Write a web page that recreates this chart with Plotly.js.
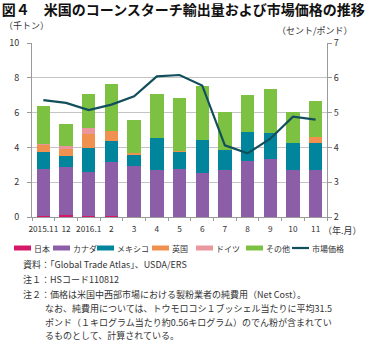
<!DOCTYPE html>
<html>
<head>
<meta charset="utf-8">
<script src="https://cdn.plot.ly/plotly-3.0.1.min.js"></script>
<style>html,body{margin:0;padding:0;background:#fff;}#chart{width:368px;height:342px;}</style>
</head>
<body>
<div id="chart"></div>
<script>
// ---- data ----
var months = ["2015.11","12","2016.1","2","3","4","5","6","7","8","9","10","11"];
var japan   = [0.05,0.10,0.05,0.05,0.00,0.00,0.00,0.00,0.00,0.00,0.00,0.00,0.00];
var canada  = [2.70,2.75,2.51,3.12,2.91,2.68,2.77,2.54,2.73,3.21,3.35,2.73,2.68];
var mexico  = [0.99,0.63,1.40,1.17,0.65,1.87,0.96,1.88,1.11,1.65,1.45,1.51,1.60];
var uk      = [0.38,0.40,0.82,0.63,0.13,0.00,0.06,0.00,0.00,0.00,0.00,0.00,0.31];
var germany = [0.08,0.21,0.34,0.00,0.00,0.00,0.00,0.00,0.00,0.00,0.00,0.00,0.00];
var other   = [2.16,1.24,1.95,2.66,1.91,2.52,3.04,3.11,2.18,2.16,2.56,1.78,2.06];
var price   = [5.36,5.28,5.07,5.23,5.47,6.04,6.08,5.78,4.06,3.83,4.25,4.88,4.80];

var seriesNames  = ["日本","カナダ","メキシコ","英国","ドイツ","その他"];
var seriesValues = [japan, canada, mexico, uk, germany, other];
var seriesColors = ["#d6186b","#8c5ea8","#00859d","#f0914f","#e9979c","#7dc142"];
var lineName = "市場価格";
var lineColor = "#124f5c";

var titleText = "図４　米国のコーンスターチ輸出量および市場価格の推移";
var leftUnit = "（千トン）";
var rightUnit = "（セント/ポンド）";
var xUnit = "（年.月）";
var notes = [
  "資料：「Global Trade Atlas」、USDA/ERS",
  "注１：HSコード110812",
  "注２：価格は米国中西部市場における製粉業者の純費用（Net Cost）。",
  "なお、純費用については、トウモロコシ１ブッシェル当たりに平均31.5",
  "ポンド（１キログラム当たり約0.56キログラム）のでん粉が含まれてい",
  "るものとして、計算されている。"
];

// ---- geometry helpers (pixel -> paper) ----
var L = 32, R = 41, T = 43, B = 125, W = 368, H = 342;
var PW = W - L - R, PH = H - T - B;
function px(x){ return (x - L) / PW; }
function py(y){ return (H - B - y) / PH; }

var FONT = "'Noto Sans CJK JP', 'Noto Sans', sans-serif";
var TXT = "#333333";

var traces = [];
for (var i = 0; i < seriesNames.length; i++) {
  traces.push({
    type: "bar", x: months, y: seriesValues[i], name: seriesNames[i],
    marker: {color: seriesColors[i], line: {width: 0}},
    showlegend: false, hoverinfo: "skip"
  });
}
traces.push({
  type: "scatter", mode: "lines", x: months, y: price, name: lineName,
  yaxis: "y2", line: {color: lineColor, width: 2.2},
  showlegend: false, hoverinfo: "skip"
});

var annotations = [];
var shapes = [];
annotations.push({xref:"paper", yref:"paper", x:px(2), y:py(25), xanchor:"left", yanchor:"middle",
  text:leftUnit, showarrow:false, font:{family:FONT, size:9, color:TXT}});
annotations.push({xref:"paper", yref:"paper", x:px(355), y:py(30), xanchor:"right", yanchor:"middle",
  text:rightUnit, showarrow:false, font:{family:FONT, size:9, color:TXT}});
annotations.push({xref:"paper", yref:"paper", x:px(321), y:py(230), xanchor:"left", yanchor:"middle",
  text:xUnit, showarrow:false, font:{family:FONT, size:9, color:TXT}});

// custom one-row legend
var legSwX = [14, 53, 97, 152, 196, 246, 292];
var legSwW = 17;
var legY = 248;
var legNames = seriesNames.concat([lineName]);
var legColors = seriesColors.concat([lineColor]);
for (var k = 0; k < legNames.length; k++) {
  if (k < seriesNames.length) {
    shapes.push({type:"rect", xref:"paper", yref:"paper",
      x0:px(legSwX[k]), x1:px(legSwX[k]+legSwW), y0:py(legY+2.5), y1:py(legY-2.5),
      fillcolor:legColors[k], line:{width:0}});
  } else {
    shapes.push({type:"line", xref:"paper", yref:"paper",
      x0:px(legSwX[k]), x1:px(legSwX[k]+legSwW), y0:py(legY), y1:py(legY),
      line:{color:legColors[k], width:2.2}});
  }
  annotations.push({xref:"paper", yref:"paper", x:px(legSwX[k]+legSwW+1), y:py(legY),
    xanchor:"left", yanchor:"middle", text:legNames[k], showarrow:false,
    font:{family:FONT, size:8, color:TXT}});
}

// notes
var noteX = [21, 21, 21, 43, 43, 43];
var noteY = [264, 279, 294, 308, 322, 335];
for (var n = 0; n < notes.length; n++) {
  annotations.push({xref:"paper", yref:"paper", x:px(noteX[n]), y:py(noteY[n]),
    xanchor:"left", yanchor:"middle", text:notes[n], showarrow:false,
    font:{family:FONT, size:9, color:TXT}});
}

var layout = {
  width: W, height: H,
  margin: {l:L, r:R, t:T, b:B, pad:0},
  paper_bgcolor: "#ffffff", plot_bgcolor: "#ffffff",
  barmode: "stack", bargap: 0.41,
  showlegend: false,
  title: {text: titleText, x: 0.005, xanchor: "left", xref: "container",
          y: 1 - 10/H, yanchor: "middle", yref: "container",
          font: {family: FONT, size: 14, color: "#111111", weight: 700}},
  font: {family: FONT, size: 9, color: TXT},
  xaxis: {type:"category", range:[-0.5, 12.5], showline:true, linecolor:"#9a9a9a", linewidth:1,
          ticks:"outside", tickson:"boundaries", ticklen:3, tickcolor:"#9a9a9a",
          tickangle:0, ticklabelstandoff:4,
          showgrid:false, zeroline:false, tickfont:{family:FONT, size:8.3, color:TXT},
          automargin:false, fixedrange:true},
  yaxis: {range:[0,10], dtick:2, showline:true, linecolor:"#9a9a9a", linewidth:1,
          ticks:"outside", ticklen:4, tickcolor:"#9a9a9a",
          showgrid:true, gridcolor:"#c4c4c4", gridwidth:1, zeroline:false,
          tickfont:{family:FONT, size:9, color:TXT}, ticklabelstandoff:6,
          automargin:false, fixedrange:true},
  yaxis2: {range:[2,7], dtick:1, overlaying:"y", side:"right", showline:true,
          linecolor:"#9a9a9a", linewidth:1, ticks:"outside", ticklen:4, tickcolor:"#9a9a9a",
          showgrid:false, zeroline:false, tickfont:{family:FONT, size:9, color:TXT},
          automargin:false, fixedrange:true},
  annotations: annotations,
  shapes: shapes
};

Plotly.newPlot("chart", traces, layout, {staticPlot:true, displayModeBar:false});
</script>
</body>
</html>
